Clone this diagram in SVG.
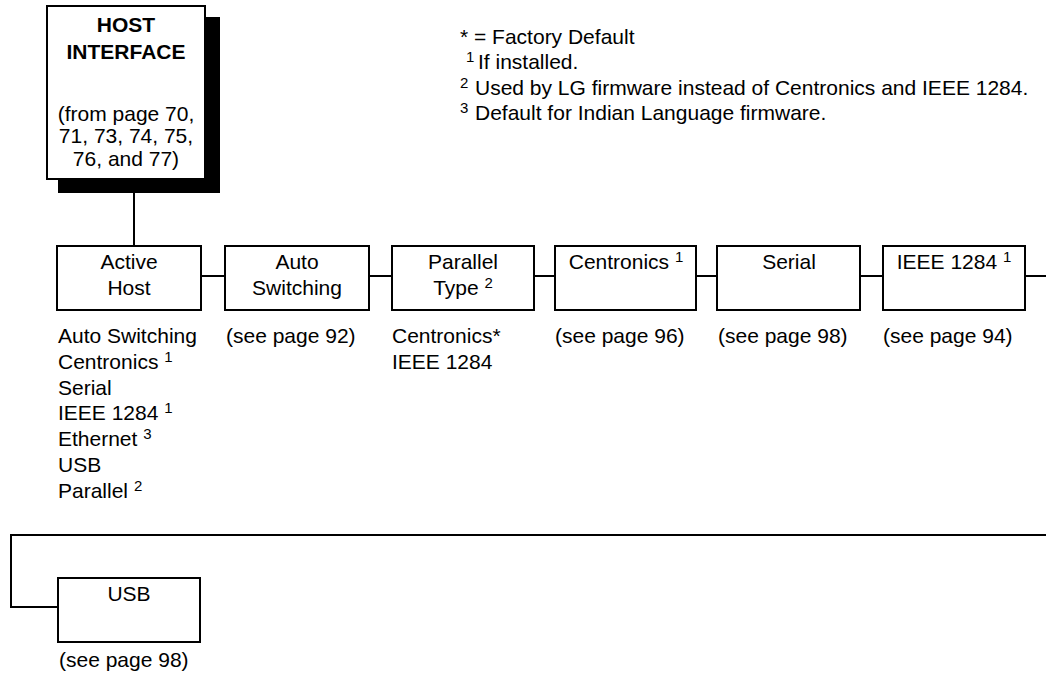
<svg xmlns="http://www.w3.org/2000/svg" width="1046" height="679" viewBox="0 0 1046 679">
<style>
text{font-family:"Liberation Sans",Arial,sans-serif;font-size:21px;fill:#000}
.b{font-weight:bold}
.m{text-anchor:middle}
.sup{font-size:15px}
.box{fill:#fff;stroke:#000;stroke-width:2}
.ln{fill:none;stroke:#000;stroke-width:2}
</style>
<rect width="1046" height="679" fill="#fff"/>
<g id="legend">
<text x="460" y="44">* = Factory Default</text>
<text x="466" y="62" class="sup">1</text><text x="478" y="69">If installed.</text>
<text x="460" y="88" class="sup">2</text><text x="475" y="95">Used by LG firmware instead of Centronics and IEEE 1284.</text>
<text x="460" y="113" class="sup">3</text><text x="475" y="120">Default for Indian Language firmware.</text>
</g>
<g id="connectors">
<line class="ln" x1="134" y1="193" x2="134" y2="245"/>
<line class="ln" x1="202" y1="276" x2="224" y2="276"/>
<line class="ln" x1="370" y1="276" x2="391" y2="276"/>
<line class="ln" x1="535" y1="276" x2="554" y2="276"/>
<line class="ln" x1="697" y1="276" x2="716" y2="276"/>
<line class="ln" x1="861" y1="276" x2="882" y2="276"/>
<line class="ln" x1="1026" y1="276" x2="1046" y2="276"/>
<path class="ln" d="M1046 535 H11 V607 H57"/>
</g>
<g id="host">
<rect x="58" y="17" width="162" height="176" fill="#000"/>
<rect class="box" x="47" y="6" width="158" height="173"/>
<text class="b m" x="126" y="32">HOST</text>
<text class="b m" x="126" y="59">INTERFACE</text>
<text class="m" x="126" y="121">(from page 70,</text>
<text class="m" x="126" y="143">71, 73, 74, 75,</text>
<text class="m" x="126" y="166">76, and 77)</text>
</g>
<g id="active-host">
<rect class="box" x="57" y="246" width="144" height="64"/>
<text class="m" x="129" y="269">Active</text>
<text class="m" x="129" y="295">Host</text>
<text x="58" y="343">Auto Switching</text>
<text x="58" y="369">Centronics <tspan class="sup" dy="-7">1</tspan></text>
<text x="58" y="395">Serial</text>
<text x="58" y="420">IEEE 1284 <tspan class="sup" dy="-7">1</tspan></text>
<text x="58" y="446">Ethernet <tspan class="sup" dy="-7">3</tspan></text>
<text x="58" y="472">USB</text>
<text x="58" y="498">Parallel <tspan class="sup" dy="-7">2</tspan></text>
</g>
<g id="auto-switching">
<rect class="box" x="225" y="246" width="144" height="64"/>
<text class="m" x="297" y="269">Auto</text>
<text class="m" x="297" y="295">Switching</text>
<text x="226" y="343">(see page 92)</text>
</g>
<g id="parallel-type">
<rect class="box" x="392" y="246" width="142" height="64"/>
<text class="m" x="463" y="269">Parallel</text>
<text class="m" x="463" y="295">Type <tspan class="sup" dy="-7">2</tspan></text>
<text x="392" y="343">Centronics*</text>
<text x="392" y="369">IEEE 1284</text>
</g>
<g id="centronics">
<rect class="box" x="555" y="246" width="141" height="64"/>
<text class="m" x="626" y="269">Centronics <tspan class="sup" dy="-7">1</tspan></text>
<text x="555" y="343">(see page 96)</text>
</g>
<g id="serial">
<rect class="box" x="717" y="246" width="143" height="64"/>
<text class="m" x="789" y="269">Serial</text>
<text x="718" y="343">(see page 98)</text>
</g>
<g id="ieee1284">
<rect class="box" x="883" y="246" width="142" height="64"/>
<text class="m" x="954" y="269">IEEE 1284 <tspan class="sup" dy="-7">1</tspan></text>
<text x="883" y="343">(see page 94)</text>
</g>
<g id="usb">
<rect class="box" x="58" y="578" width="142" height="64"/>
<text class="m" x="129" y="601">USB</text>
<text x="59" y="667">(see page 98)</text>
</g>
</svg>
